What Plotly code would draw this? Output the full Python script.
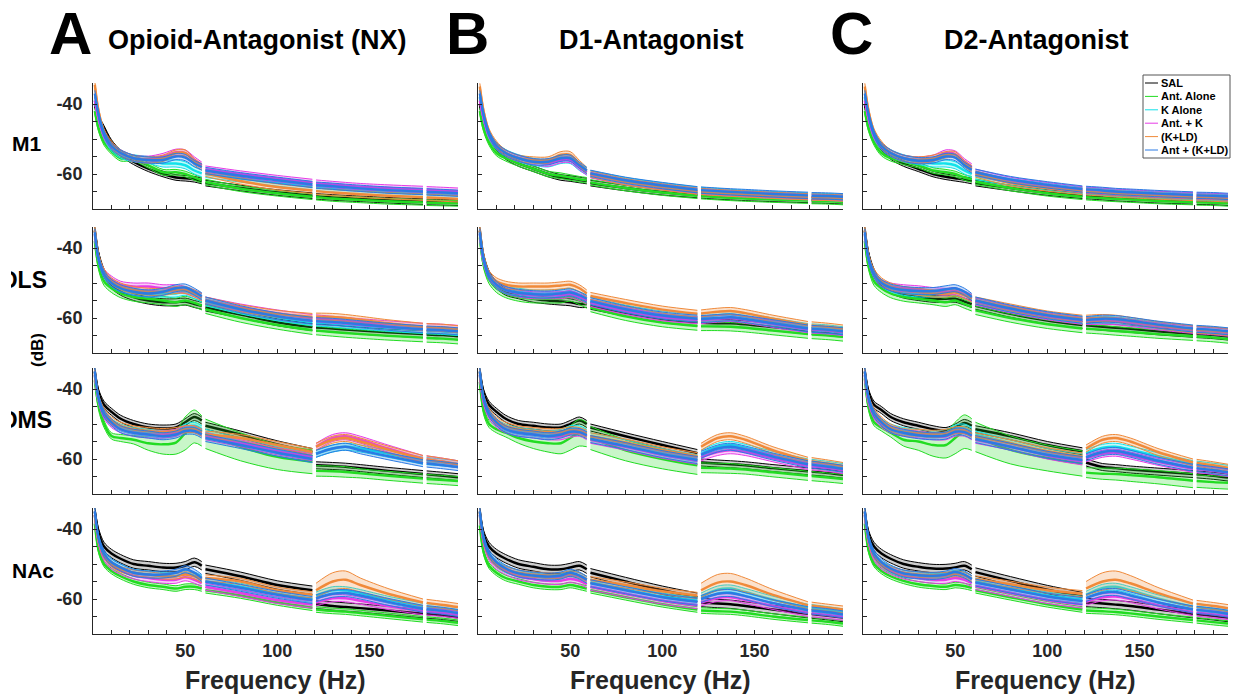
import plotly.graph_objects as go

W, H = 1233, 700

# Frequency knots (Hz); 60/120/180 Hz line-noise bins are excluded
FREQ = [1, 3, 6, 10, 15, 22, 30, 38, 45, 50, 55, 59,
        61, 80, 100, 119,
        121, 130, 137, 145, 160, 179,
        181, 190, 198]
SEGMENTS = [(0, 12), (12, 16), (16, 22), (22, 25)]

GROUPS = ["SAL", "Ant. Alone", "K Alone", "Ant. + K", "(K+LD)", "Ant + (K+LD)"]
LINE_COLORS = ["#000000", "#22dc22", "#12e2ea", "#e63ce6", "#f08a3a", "#2a7be4"]
FILL_COLORS = ["rgba(60,60,60,0.25)", "rgba(40,220,40,0.25)", "rgba(20,226,234,0.25)",
               "rgba(230,60,230,0.25)", "rgba(240,138,58,0.25)", "rgba(42,123,228,0.25)"]
REGIONS = ["M1", "DLS", "DMS", "NAc"]
PANEL_LETTERS = ["A", "B", "C"]
PANEL_TITLES = ["Opioid-Antagonist (NX)", "D1-Antagonist", "D2-Antagonist"]
X_TICKS = [50, 100, 150]
Y_TICKS = [-40, -60]
Y_TICK_TEXT = ["-40", "-60"]

# ---- mean power (dB), one list per group in GROUPS order ----
NX_M1 = [
    [-40, -44, -47, -51, -54, -56.5, -58.5, -60, -61, -61.2, -61.5, -62, -62.6, -64, -65.3, -66.2, -66.4, -66.7, -66.9, -67.1, -67.5, -67.9, -68, -68.1, -68.2],
    [-42, -47, -51, -53.5, -55.5, -55.5, -57.5, -59.5, -59.5, -60, -61, -61.8, -62.3, -64.2, -65.5, -66.5, -66.6, -67, -67.2, -67.4, -67.8, -68.1, -68.2, -68.3, -68.4],
    [-39, -44, -49, -52.5, -54.5, -55.5, -56, -57, -57, -57.5, -59, -59.8, -60, -61.3, -62.5, -63.6, -63.8, -64.2, -64.5, -64.7, -65.2, -65.6, -65.7, -65.9, -66],
    [-39, -44, -49, -52, -54, -55.5, -55.8, -55, -53.8, -54, -56, -57.5, -58.6, -60, -61.3, -62.4, -62.6, -63, -63.3, -63.6, -64, -64.4, -64.5, -64.7, -64.9],
    [-34.5, -42, -48, -51.5, -54, -55.5, -56, -55.5, -54, -54, -56.5, -58, -59.8, -62, -63.7, -64.7, -64.9, -65.3, -65.5, -65.8, -66.2, -66.6, -66.7, -66.9, -67.1],
    [-37, -43, -48.5, -52, -54, -55.5, -56, -56, -55, -55.3, -57, -58, -59, -60.5, -61.8, -63, -63.2, -63.5, -63.8, -64.1, -64.6, -65, -65.1, -65.3, -65.5],
]
NX_M1_SEM = [0.8, 0.8, 1.0, 0.9, 0.9, 0.9]

D1_M1 = [
    [-40, -45, -49, -52.5, -55, -57, -58.5, -60, -61, -61.3, -61.7, -62, -62.6, -64, -65.2, -66, -66.1, -66.4, -66.6, -66.8, -67.1, -67.4, -67.5, -67.6, -67.8],
    [-42, -47, -51, -54, -55.5, -57, -58.5, -60, -60.5, -61, -61.5, -61.8, -62.4, -64, -65.3, -66.2, -66.3, -66.6, -66.8, -67, -67.3, -67.6, -67.7, -67.8, -68],
    [-38, -44, -49, -52, -54, -55.5, -56.5, -57, -56, -56, -58, -59.3, -60, -62, -63.5, -64.7, -64.8, -65.1, -65.4, -65.6, -66, -66.4, -66.5, -66.6, -66.8],
    [-39, -44, -49, -52, -54, -55.5, -56.5, -57, -56, -56, -58, -59.5, -60.3, -62.3, -63.7, -64.9, -65, -65.3, -65.5, -65.7, -66.1, -66.5, -66.6, -66.7, -66.9],
    [-35, -42, -48, -51.5, -54, -55.5, -56, -56, -54.5, -54.5, -57, -59, -60, -62.2, -63.7, -64.9, -65, -65.3, -65.5, -65.7, -66.1, -66.5, -66.6, -66.7, -66.9],
    [-37, -43, -48.5, -52, -54, -55.5, -56.5, -56.5, -55.5, -55.5, -57.5, -59, -59.8, -61.8, -63.3, -64.5, -64.6, -64.9, -65.1, -65.3, -65.7, -66.1, -66.2, -66.3, -66.5],
]
D1_M1_SEM = [0.8, 0.8, 1.0, 0.8, 0.9, 0.9]

D2_M1 = [
    [-40, -45, -49, -52.5, -55, -57, -58.5, -60, -60.8, -61.2, -61.6, -62, -62.6, -64, -65.3, -66.2, -66.3, -66.6, -66.9, -67.1, -67.5, -67.8, -67.9, -68, -68.2],
    [-42, -47, -51, -54, -55.5, -56.5, -57.5, -59, -59.5, -60, -61, -61.5, -62.2, -64, -65.5, -66.5, -66.6, -66.9, -67.1, -67.3, -67.7, -68, -68.1, -68.2, -68.4],
    [-38, -44, -49, -52, -54, -55.5, -56.3, -57, -57, -57.5, -59, -60, -60.6, -62.3, -63.7, -64.8, -64.9, -65.2, -65.5, -65.7, -66.1, -66.5, -66.6, -66.7, -66.9],
    [-39, -44, -49, -52, -54, -55.5, -56, -55.5, -54, -54.3, -56.5, -58, -59.5, -61.8, -63.3, -64.5, -64.6, -64.9, -65.2, -65.4, -65.8, -66.2, -66.3, -66.4, -66.6],
    [-35, -42, -48, -51.5, -54, -55.5, -56, -55.5, -54.5, -54.5, -57, -58.5, -60, -62.5, -64, -65, -65.1, -65.4, -65.7, -65.9, -66.3, -66.7, -66.8, -66.9, -67.1],
    [-37, -43, -48.5, -52, -54, -55.5, -56.2, -56, -55, -55.3, -57.5, -58.8, -59.5, -61.6, -63.1, -64.3, -64.4, -64.7, -65, -65.2, -65.6, -66, -66.1, -66.2, -66.4],
]
D2_M1_SEM = [0.8, 0.8, 1.0, 0.9, 0.9, 0.9]

NX_DLS = [
    [-35, -42, -47, -50.5, -52.5, -54, -55, -55.5, -55.5, -55.3, -56, -56.5, -57, -59, -61.2, -62.6, -62.7, -63, -63.3, -63.6, -64.1, -64.6, -64.7, -64.9, -65.2],
    [-38, -45, -49.5, -51.5, -53, -54, -54.5, -55, -55.5, -55, -55.7, -56.5, -57.5, -60, -62, -63.5, -63.6, -64, -64.3, -64.6, -65.1, -65.6, -65.7, -65.9, -66.2],
    [-36, -43, -47.5, -50, -51.5, -52.5, -53, -53, -53, -52.5, -53.5, -54.5, -55.5, -57.8, -59.8, -61.2, -61.3, -61.6, -61.9, -62.2, -62.8, -63.4, -63.5, -63.7, -64],
    [-36, -43, -47, -49, -50.5, -51, -51, -51.5, -51.5, -52, -53, -54, -55, -57, -58.7, -60, -60.1, -60.5, -60.8, -61.2, -61.8, -62.5, -62.6, -62.8, -63.1],
    [-35, -42.5, -47, -49.5, -51, -52, -52.5, -52.5, -52, -52, -53, -54, -55, -57.2, -58.8, -59.7, -59.6, -59.7, -60, -60.5, -61.5, -62.5, -62.6, -62.8, -63.2],
    [-35.5, -43, -47.5, -50, -51.5, -52.5, -53, -52.5, -51.5, -51.3, -52.5, -53.8, -55, -57.5, -59.5, -60.8, -60.9, -61.1, -61.4, -61.8, -62.5, -63.2, -63.3, -63.5, -63.8],
]
NX_DLS_SEM = [1.0, 1.2, 1.0, 1.0, 1.0, 1.0]

D1_DLS = [
    [-35, -42.5, -47.5, -50.5, -52.5, -53.5, -54.5, -55, -55.3, -55.5, -56, -56, -56.5, -58.5, -60.3, -61.3, -61.4, -61.5, -61.5, -61.8, -62.6, -63.6, -63.7, -64, -64.4],
    [-37, -44.5, -49, -51.5, -53, -54, -54.5, -54.5, -54.5, -54, -55, -56, -57, -59.5, -61.3, -62.3, -62.4, -62.4, -62.5, -62.8, -63.6, -64.6, -64.7, -65, -65.4],
    [-36, -43.5, -48, -50.5, -52, -52.5, -53, -53, -52.8, -52.5, -53.5, -54.5, -55, -57.3, -59, -59.8, -59.8, -59.2, -59, -59.6, -61, -62.6, -62.7, -63, -63.5],
    [-36, -43.5, -48, -50.5, -52, -53, -53.5, -53.5, -53.5, -53.2, -54, -55, -55.7, -58, -59.8, -60.6, -60.6, -60.2, -60, -60.5, -61.7, -63.2, -63.3, -63.6, -64],
    [-35, -42.5, -47.5, -49.5, -50.5, -51, -51, -51, -50.7, -50.5, -51.5, -53, -53.7, -55.7, -57.6, -58.8, -58.7, -58.2, -58, -58.6, -60.2, -62, -62.1, -62.5, -63],
    [-35.5, -43, -48, -50.5, -52, -52.8, -53.2, -53.3, -53, -52.7, -53.5, -54.5, -55.2, -57.5, -59.3, -60.2, -60.3, -60, -59.8, -60.3, -61.5, -63, -63.1, -63.4, -63.8],
]
D1_DLS_SEM = [1.0, 1.2, 1.0, 1.0, 1.0, 1.0]

D2_DLS = [
    [-35, -42, -47, -50.5, -52, -53.3, -54, -54.5, -54.5, -54.5, -55.3, -56, -56.5, -58.8, -60.7, -62, -62.1, -62.5, -62.8, -63.1, -63.8, -64.5, -64.6, -64.9, -65.3],
    [-38, -45, -49.5, -51.5, -53, -54, -54.5, -55, -55.5, -55, -56, -56.8, -57.8, -60, -61.8, -63, -63.1, -63.4, -63.7, -64, -64.6, -65.2, -65.3, -65.6, -66],
    [-36, -43, -47.5, -50, -51.5, -52.5, -53, -53, -53, -52.5, -53.5, -54.5, -55.3, -57.5, -59.3, -60.6, -60.7, -60.6, -60.7, -61.2, -62.2, -63.2, -63.3, -63.6, -64],
    [-36, -43, -47.5, -50, -51, -51.5, -51.8, -52.3, -52.5, -52.3, -53.3, -54.3, -55.3, -57.5, -59.5, -60.8, -60.9, -60.8, -60.9, -61.4, -62.4, -63.4, -63.5, -63.8, -64.2],
    [-35, -42.5, -47, -49.5, -51, -52, -52.5, -53, -53, -52.7, -53.5, -54.5, -55, -57, -59, -60.2, -60.2, -60, -60.2, -60.8, -62, -63.2, -63.3, -63.6, -64],
    [-35.5, -43, -47.5, -50, -51.3, -52, -52.3, -52.3, -51.8, -51.5, -52.5, -54, -55, -57.3, -59.2, -60.5, -60.6, -60.2, -60.3, -60.8, -61.9, -63, -63.1, -63.4, -63.8],
]
D2_DLS_SEM = [1.0, 1.2, 1.0, 1.0, 1.0, 1.0]

NX_DMS = [
    [-35, -41, -44.5, -46.5, -48.5, -50, -51, -51.3, -51, -49.5, -48, -49, -50.5, -53, -55.8, -58, -61.8, -62, -62.2, -62.6, -63.4, -64.3, -64.4, -64.8, -65.2],
    [-37.5, -44.5, -50, -53.4, -54, -54.5, -55.5, -55.8, -55.3, -52.7, -50.7, -52, -52.8, -56.5, -59.4, -60.8, -63.4, -63.5, -63.7, -64.1, -64.8, -65.6, -65.7, -66, -66.3],
    [-36, -43, -47, -49.5, -51, -52, -52.5, -53, -52.5, -51, -50.5, -51.5, -52.5, -55, -57.5, -59.3, -58.5, -57, -56.5, -57, -58.5, -60.5, -60.6, -61, -61.5],
    [-36, -43, -47.5, -50, -51.5, -52.5, -53, -53, -52.5, -51.5, -51.5, -52.5, -53.5, -55.5, -57.8, -59.5, -56.5, -54, -53.5, -54.5, -57, -60, -60.1, -60.8, -61.5],
    [-35.5, -42.5, -46.5, -49, -50.5, -51.5, -52, -52.3, -52, -51.5, -51.5, -52.5, -53, -54, -56, -58, -56.5, -54.5, -54, -55, -57.3, -60, -60.1, -60.8, -61.5],
    [-35, -42.5, -47, -49.5, -51.5, -52.5, -53, -53.5, -53, -52, -52, -53, -54, -56, -58.2, -60, -58.5, -57, -56.5, -57.5, -59.2, -61.2, -61.3, -61.8, -62.3],
]
NX_DMS_SEM = [1.0,
              [1.2, 1.5, 1.0, 0.9, 1.0, 1.2, 2, 2.8, 3.3, 4.7, 4.7, 4.3, 4.2, 4, 3.6, 3.4, 1.5, 1.5, 1.5, 1.3, 1.3, 1.3, 1.3, 1.3, 1.3],
              1.0, 1.0, 1.0, 1.0]

D1_DMS = [
    [-35, -41, -44.5, -46.5, -48.5, -50, -50.5, -51, -51, -50, -49, -50, -51, -53.5, -56, -58.3, -61, -61.3, -61.5, -61.8, -62.6, -63.5, -63.6, -64, -64.5],
    [-38, -46, -50, -51.5, -52.5, -54, -55, -55.5, -55.5, -54, -52.5, -53, -54, -57.5, -60, -61.8, -62.5, -62.6, -62.7, -63, -63.8, -64.8, -64.9, -65.3, -65.7],
    [-36, -43, -47, -49.5, -51, -52, -52.5, -53, -52.5, -51.5, -51.5, -52.5, -53.5, -55.5, -58, -59.8, -58.5, -56.5, -56, -56.8, -58.8, -61, -61.1, -61.7, -62.3],
    [-36, -43.5, -47.5, -50, -51.5, -52.5, -53, -53.5, -53.5, -52.8, -52.5, -53.5, -54.5, -56.5, -58.8, -60.5, -59.5, -58, -57.5, -58, -59.8, -62, -62.1, -62.6, -63.2],
    [-35.5, -42.5, -46.5, -49, -50.5, -51.5, -52, -52.3, -52.3, -51.8, -52, -52.8, -53.5, -55.3, -57.5, -59.2, -56.5, -54, -53.5, -54.5, -57.5, -60.5, -60.6, -61.3, -62],
    [-35, -42.5, -47, -49.5, -51.5, -52.5, -53, -53.5, -53, -52.2, -52.3, -53.2, -54.3, -56.3, -58.6, -60.3, -58.8, -57, -56.5, -57.3, -59.3, -61.5, -61.6, -62.2, -62.8],
]
D1_DMS_SEM = [1.0,
              [1.0, 1.2, 1.0, 1.0, 1.2, 1.5, 2, 2.5, 3, 3.5, 3.8, 3.5, 3.3, 3, 2.8, 2.6, 1.4, 1.4, 1.4, 1.3, 1.3, 1.3, 1.3, 1.3, 1.3],
              1.0, 1.0, 1.0, 1.0]

D2_DMS = [
    [-35, -41, -44.5, -46, -48, -49.5, -50.5, -51.5, -52, -51, -49.7, -50.5, -51.5, -53.5, -56, -57.8, -61, -62.3, -62.6, -63, -63.6, -64.3, -64.4, -64.8, -65.3],
    [-37, -45, -49.5, -51, -52.5, -54.5, -55, -56, -56, -54, -52.2, -53, -53.7, -57.4, -59.7, -61.3, -63.9, -64.2, -64.3, -64.6, -65.2, -66.2, -66.3, -66.6, -66.8],
    [-36, -43, -47, -49.5, -51, -52, -52.5, -53, -52.5, -51.3, -51, -52, -53, -55.5, -58, -59.5, -58.3, -56.8, -56.5, -57.3, -59.2, -61.5, -61.6, -62.2, -62.8],
    [-36, -43.5, -47.5, -50, -51.5, -52.5, -53, -53.5, -53.5, -52.5, -52.5, -53.5, -54.5, -56.5, -59, -60.7, -59.8, -58.5, -58.2, -59, -60.8, -62.8, -62.9, -63.4, -64],
    [-35.3, -42.5, -46.5, -49, -51, -52.3, -52.5, -52.8, -52.5, -51.8, -51.8, -52.8, -53.5, -55.5, -57.8, -59.3, -57, -54.5, -54, -55, -58, -61, -61.1, -61.8, -62.5],
    [-35, -42.5, -47, -49.5, -51.5, -52.5, -53.2, -53.5, -53.3, -52.2, -52.3, -53.3, -54.3, -56.5, -58.8, -60.3, -59.5, -58, -57.7, -58.5, -60.5, -62.5, -62.6, -63.2, -63.8],
]
D2_DMS_SEM = [1.0,
              [1.0, 1.2, 1.0, 1.0, 1.2, 1.8, 2.5, 3.2, 3.7, 4.5, 4.8, 4.5, 4.2, 4, 3.7, 3.6, 1.4, 1.6, 1.7, 1.8, 1.9, 2, 1.8, 1.8, 1.8],
              1.0, 1.0, 1.0, 1.0]

NX_NAC = [
    [-35, -41, -45, -47, -48.5, -50, -50.5, -51, -51, -50.5, -49.5, -50.5, -51.5, -53.5, -56, -57.5, -61.5, -62, -62.3, -62.6, -63.3, -64.2, -64.3, -64.7, -65.2],
    [-38.5, -46, -50, -52, -53.5, -55, -56, -56.5, -57, -56.5, -56.5, -57, -57.5, -59, -61, -62.5, -63, -63.4, -63.6, -64, -64.8, -65.8, -65.9, -66.3, -66.8],
    [-36, -43, -47.5, -49.5, -51, -52.5, -53, -53.5, -53.5, -52.8, -53.3, -54.3, -55, -56.5, -58.5, -60, -59, -57.5, -57.5, -58.3, -60.2, -62.2, -62.3, -62.8, -63.3],
    [-36, -43.5, -48, -50.5, -52, -53.3, -54, -54.5, -54.5, -53.8, -54.5, -55.5, -56.5, -58.3, -60.3, -61.6, -61, -59.8, -59.8, -60.5, -62, -63.5, -63.6, -64, -64.5],
    [-36, -43, -47.5, -50, -51.5, -52.5, -53, -53.5, -53.5, -53, -53.5, -54.5, -54, -55, -57.5, -58.8, -57.5, -55, -54.5, -56, -58.5, -61, -61.1, -61.7, -62.3],
    [-35, -42.5, -47, -49.5, -51, -52.5, -53, -53, -52.5, -51.5, -52.5, -54, -55, -56.8, -58.8, -60.3, -59.8, -58.5, -58.3, -59, -60.8, -62.8, -62.9, -63.4, -64],
]
NX_NAC_SEM = [1.2, 0.8, 1.0, 1.0,
              [0.8, 0.8, 0.8, 0.8, 0.8, 0.8, 0.8, 0.8, 0.8, 0.8, 0.8, 0.8, 0.9, 0.9, 0.9, 0.9, 2.0, 2.5, 2.5, 2.0, 1.5, 1.0, 1.0, 1.0, 1.0],
              1.0]

D1_NAC = [
    [-35, -41.5, -45, -47, -48.5, -50, -50.8, -51.5, -51.5, -51, -50.5, -51.5, -52.5, -55, -57.5, -59.5, -61, -61.3, -61.5, -62, -63, -64.2, -64.3, -64.8, -65.3],
    [-39, -46.5, -50.5, -52.5, -54, -55, -56, -56.5, -56.5, -56, -56.5, -57, -57.5, -59.5, -61.5, -63, -63.3, -63.5, -63.6, -64, -65, -66, -66.1, -66.5, -67],
    [-36, -43, -47.5, -50, -51.5, -52.8, -53.5, -54, -53.8, -53, -53.5, -54.5, -55.3, -57.3, -59.3, -60.5, -59.3, -57.3, -57, -58, -60.2, -62.5, -62.6, -63.2, -63.8],
    [-36, -43.5, -48, -50.5, -52, -53.5, -54.3, -54.8, -54.8, -54.3, -54.8, -55.8, -56.5, -58.5, -60.5, -61.8, -61, -59.7, -59.5, -60.3, -62, -64, -64.1, -64.6, -65.1],
    [-35.5, -43, -47.5, -50, -51.5, -52.5, -53, -53.3, -53.3, -52.8, -53.3, -54.3, -54.5, -56, -57.8, -59, -57.5, -55.3, -55, -56, -58.8, -61.8, -61.9, -62.5, -63],
    [-35, -42.5, -47, -49.5, -51.3, -52.7, -53.3, -53.6, -53.3, -52.5, -53.3, -54.5, -55.5, -57.5, -59.5, -60.8, -60, -58.5, -58.3, -59.2, -61.2, -63.2, -63.3, -63.8, -64.4],
]
D1_NAC_SEM = [1.2, 0.8, 1.0, 1.0,
              [0.8, 0.8, 0.8, 0.8, 0.8, 0.8, 0.8, 0.8, 0.8, 0.8, 0.8, 0.8, 0.9, 0.9, 0.9, 0.9, 2.0, 2.3, 2.3, 2.0, 1.5, 1.0, 1.0, 1.0, 1.0],
              1.0]

D2_NAC = [
    [-35, -41.5, -45, -47, -48.5, -50, -50.8, -51.3, -51.3, -51, -50.5, -51.5, -52.3, -54.8, -57.3, -59.3, -61, -61.3, -61.6, -62, -63, -64.2, -64.3, -64.8, -65.3],
    [-38.5, -46, -50, -52, -53.5, -54.8, -55.8, -56.3, -56.5, -56, -56.3, -56.8, -57.5, -59.5, -61.5, -63, -63.3, -63.5, -63.7, -64.1, -65, -66, -66.1, -66.6, -67],
    [-36, -43, -47.5, -50, -51.5, -52.8, -53.3, -53.8, -53.5, -52.8, -53.3, -54.3, -55, -57, -59, -60.2, -58.8, -56.8, -56.5, -57.5, -59.8, -62.2, -62.3, -62.9, -63.5],
    [-36, -43.5, -48, -50.5, -52, -53.3, -54, -54.5, -54.5, -54, -54.5, -55.5, -56.3, -58.3, -60.3, -61.6, -60.8, -59.5, -59.3, -60, -61.8, -63.8, -63.9, -64.4, -64.9],
    [-35.5, -43, -47.5, -50, -51.5, -52.5, -53, -53.2, -53.2, -52.8, -53.2, -54.2, -54.3, -55.8, -57.5, -58.5, -57, -55, -54.5, -55.5, -58.3, -61.3, -61.4, -62, -62.6],
    [-35, -42.5, -47, -49.5, -51.3, -52.7, -53.2, -53.4, -53, -52.3, -53, -54.3, -55.3, -57.3, -59.3, -60.6, -59.7, -58.2, -58, -59, -61, -63, -63.1, -63.6, -64.2],
]
D2_NAC_SEM = [1.2, 0.8, 1.0, 1.0,
              [0.8, 0.8, 0.8, 0.8, 0.8, 0.8, 0.8, 0.8, 0.8, 0.8, 0.8, 0.8, 0.9, 0.9, 0.9, 0.9, 2.0, 2.5, 2.5, 2.2, 1.6, 1.0, 1.0, 1.0, 1.0],
              1.0]

# rows = regions, columns = antagonist
PANELS = [
    [(NX_M1, NX_M1_SEM), (D1_M1, D1_M1_SEM), (D2_M1, D2_M1_SEM)],
    [(NX_DLS, NX_DLS_SEM), (D1_DLS, D1_DLS_SEM), (D2_DLS, D2_DLS_SEM)],
    [(NX_DMS, NX_DMS_SEM), (D1_DMS, D1_DMS_SEM), (D2_DMS, D2_DMS_SEM)],
    [(NX_NAC, NX_NAC_SEM), (D1_NAC, D1_NAC_SEM), (D2_NAC, D2_NAC_SEM)],
]

# ---- layout geometry (pixels) ----
COL_X = [(93, 458), (478, 843), (863, 1228)]
ROW_Y = [(83, 209), (227, 353), (368, 494), (508, 634)]
Y_RANGE = [-70, -34]
X_RANGE = [0, 198]

FONT = "Liberation Sans, Arial, sans-serif"
AXIS_COLOR = "#262626"


def px_x(p):
    return p / W


def px_y(p):
    return 1 - p / H


fig = go.Figure()

for r in range(4):
    for c in range(3):
        k = r * 3 + c + 1
        xref, yref = ("x" if k == 1 else f"x{k}"), ("y" if k == 1 else f"y{k}")
        means, sems = PANELS[r][c]
        for g in range(len(GROUPS)):
            m = means[g]
            s = sems[g]
            s = s if isinstance(s, list) else [s] * len(m)
            for a, b in SEGMENTS:
                fx = FREQ[a:b]
                lo = [m[i] - s[i] for i in range(a, b)]
                hi = [m[i] + s[i] for i in range(a, b)]
                common = dict(xaxis=xref, yaxis=yref, showlegend=False, hoverinfo="skip", mode="lines")
                fig.add_trace(go.Scatter(x=fx, y=lo, line=dict(color=LINE_COLORS[g], width=1, shape="spline", smoothing=0.9), **common))
                fig.add_trace(go.Scatter(x=fx, y=hi, fill="tonexty", fillcolor=FILL_COLORS[g],
                                         line=dict(color=LINE_COLORS[g], width=1, shape="spline", smoothing=0.9), **common))
                fig.add_trace(go.Scatter(x=fx, y=m[a:b], line=dict(color=LINE_COLORS[g], width=2.4, shape="spline", smoothing=0.9),
                                         name=GROUPS[g], **common))

layout = dict(
    width=W, height=H,
    margin=dict(l=0, r=0, t=0, b=0),
    paper_bgcolor="white", plot_bgcolor="white",
    showlegend=False,
)

tick_font = dict(family=FONT, size=18, color=AXIS_COLOR, weight="bold")
for r in range(4):
    for c in range(3):
        k = r * 3 + c + 1
        xa = "xaxis" if k == 1 else f"xaxis{k}"
        ya = "yaxis" if k == 1 else f"yaxis{k}"
        layout[xa] = dict(
            domain=[px_x(COL_X[c][0]), px_x(COL_X[c][1])], range=X_RANGE,
            anchor="y" if k == 1 else f"y{k}",
            showline=True, linecolor=AXIS_COLOR, linewidth=1, showgrid=False, zeroline=False,
            ticks="inside", ticklen=4, tickcolor=AXIS_COLOR, tickvals=X_TICKS,
            showticklabels=(r == 3), tickfont=tick_font,
            minor=dict(tickvals=[v for v in range(10, 200, 10)], ticks="inside", ticklen=4, tickcolor=AXIS_COLOR),
        )
        layout[ya] = dict(
            domain=[px_y(ROW_Y[r][1]), px_y(ROW_Y[r][0])], range=Y_RANGE,
            anchor="x" if k == 1 else f"x{k}",
            showline=True, linecolor=AXIS_COLOR, linewidth=1, showgrid=False, zeroline=False,
            ticks="inside", ticklen=4, tickcolor=AXIS_COLOR, tickvals=Y_TICKS, ticktext=Y_TICK_TEXT,
            ticklabelstandoff=6,
            showticklabels=(c == 0), tickfont=tick_font,
            minor=dict(tickvals=[-65, -55, -50, -45], ticks="inside", ticklen=4, tickcolor=AXIS_COLOR),
        )

annotations = []
# panel letters and titles
LETTER_X = [47, 444, 828]
TITLE_CX = [257, 652, 1036]
for c in range(3):
    annotations.append(dict(text=PANEL_LETTERS[c], x=px_x(LETTER_X[c]), y=px_y(33), xref="paper", yref="paper",
                            xanchor="left", yanchor="middle", height=50, valign="middle", showarrow=False,
                            font=dict(family=FONT, size=60, color="black", weight="bold")))
    annotations.append(dict(text=PANEL_TITLES[c], x=px_x(TITLE_CX[c]), y=px_y(40), xref="paper", yref="paper",
                            xanchor="center", yanchor="middle", showarrow=False,
                            font=dict(family=FONT, size=27, color="black", weight="bold")))
    annotations.append(dict(text="Frequency (Hz)", x=px_x((COL_X[c][0] + COL_X[c][1]) / 2), y=px_y(680),
                            xref="paper", yref="paper", xanchor="center", yanchor="middle", showarrow=False,
                            font=dict(family=FONT, size=25, color=AXIS_COLOR, weight="bold")))

# region labels; the figure's left edge is trimmed at x = 11 px, cutting into "DLS"/"DMS"
ROW_LABEL_Y = [143, 280, 420, 570]
ROW_LABEL_X = [10, -1, -1, 10]
ROW_LABEL_SIZE = [21, 23, 23, 21]
for r in range(4):
    annotations.append(dict(text=REGIONS[r], x=px_x(ROW_LABEL_X[r]), y=px_y(ROW_LABEL_Y[r]), xref="paper", yref="paper",
                            xanchor="left", yanchor="middle", showarrow=False,
                            font=dict(family=FONT, size=ROW_LABEL_SIZE[r], color="black", weight="bold")))
for r in (1, 2):
    annotations.append(dict(text=" ", x=0, y=px_y(ROW_LABEL_Y[r]), xref="paper", yref="paper",
                            xanchor="left", yanchor="middle", width=11, height=34, borderpad=0, borderwidth=0,
                            bgcolor="white", showarrow=False, font=dict(size=8)))

annotations.append(dict(text="(dB)", x=px_x(37), y=px_y(350), xref="paper", yref="paper", textangle=-90,
                        xanchor="center", yanchor="middle", showarrow=False,
                        font=dict(family=FONT, size=17, color="black", weight="bold")))

shapes = []
# legend box for the group colours
LEG_X0, LEG_X1, LEG_Y0, LEG_Y1 = 1143, 1230, 75, 158
shapes.append(dict(type="rect", xref="paper", yref="paper", x0=px_x(LEG_X0), x1=px_x(LEG_X1),
                   y0=px_y(LEG_Y1), y1=px_y(LEG_Y0), line=dict(color="#555555", width=1), fillcolor="white", layer="above"))
for i, name in enumerate(GROUPS):
    yy = 83 + 13.4 * i
    shapes.append(dict(type="line", xref="paper", yref="paper", x0=px_x(1145), x1=px_x(1158),
                       y0=px_y(yy), y1=px_y(yy), line=dict(color=LINE_COLORS[i], width=1), layer="above"))
    annotations.append(dict(text=name, x=px_x(1159), y=px_y(yy), xref="paper", yref="paper",
                            xanchor="left", yanchor="middle", showarrow=False,
                            font=dict(family=FONT, size=11, color="black", weight="bold")))

layout["annotations"] = annotations
layout["shapes"] = shapes
fig.update_layout(**layout)
fig.write_html("out.html")
